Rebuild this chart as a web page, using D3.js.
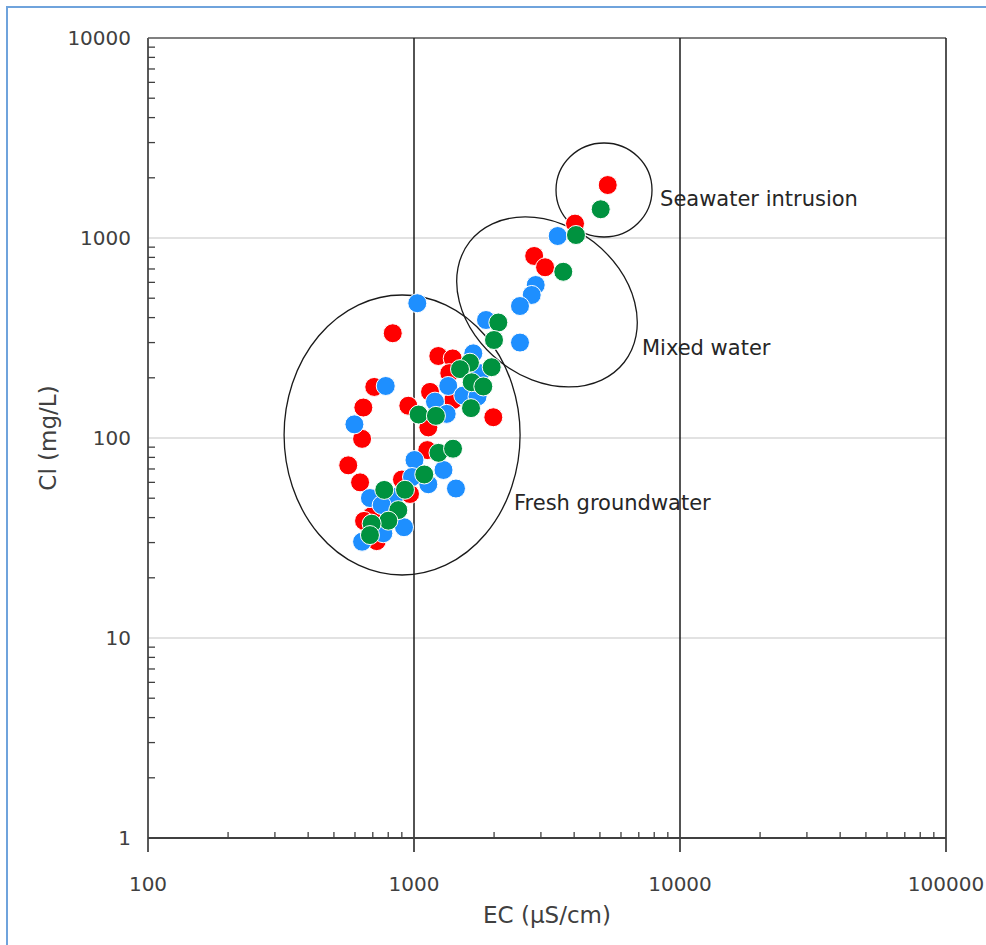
<!DOCTYPE html>
<html>
<head>
<meta charset="utf-8">
<script src="https://cdn.jsdelivr.net/npm/d3@7"></script>
<style>
  html, body { margin: 0; padding: 0; background: #fff; }
  svg { display: block; }
  text { font-family: "DejaVu Sans", sans-serif; fill: #404040; }
</style>
</head>
<body>
<svg id="chart" width="986" height="945"></svg>
<script>
// Electrical conductivity (µS/cm) and chloride (mg/L) per sample group
const redEC  = [5350, 4030, 2830, 3110, 832, 1234, 1398, 1357, 1149, 1405, 1987, 709, 645, 952, 1132, 638, 1122, 566, 627, 901, 966, 693, 724, 649];
const redCl  = [1840, 1180, 813, 714, 334, 257, 250, 211, 170, 155, 127, 180, 142, 145, 113, 99, 87, 73, 60, 62, 52.5, 40.7, 30.5, 38.5];

const blueEC = [3469, 2868, 2770, 2503, 1865, 2503, 1029, 1671, 1345, 1199, 1532, 1733, 1771, 1327, 783, 597, 1004, 1291, 1132, 1438, 983, 683, 841, 756, 917, 767, 638];
const blueCl = [1023, 582, 519, 457, 389, 300, 472, 265, 182, 152, 163, 161, 211, 132, 182, 117, 77.6, 69.2, 58.7, 55.9, 63.8, 50.1, 50.7, 46.2, 35.8, 33.4, 30.3];

const greenEC = [5034, 4064, 3641, 2075, 1999, 1623, 1489, 1959, 1648, 1822, 1638, 1041, 1209, 1236, 1402, 1093, 773, 925, 873, 801, 693, 683];
const greenCl = [1392, 1035, 678, 378, 309, 238, 221, 226, 190, 181, 141, 131, 129, 84.3, 88.4, 65.7, 55, 55.1, 43.6, 38.6, 37.3, 32.7];

// Axis ticks
const xTicks = [100, 1000, 10000, 100000];
const yTicks = [1, 10, 100, 1000, 10000];

// Water-type zones: centre in data units, label anchor in data units
const zoneNames  = ["Fresh groundwater", "Mixed water", "Seawater intrusion"];
const zoneCenEC  = [902, 3162, 5180];
const zoneCenCl  = [103.5, 479, 1738];
const zoneLabEC  = [2377, 7194, 8414];
const zoneLabCl  = [43.6, 260, 1445];

const W = 986, H = 945;
const plotL = 148, plotR = 946, plotT = 38, plotB = 838;

const svg = d3.select("#chart");

// outer frame
svg.append("path")
  .attr("d", `M7,${H} L7,7 L${W},7`)
  .attr("fill", "none").attr("stroke", "#6fa3dc").attr("stroke-width", 2);

const x = d3.scaleLog().domain([100, 100000]).range([plotL, plotR]);
const y = d3.scaleLog().domain([1, 10000]).range([plotB, plotT]);

// minor tick values (2..9 per decade)
const minorX = [], minorY = [];
for (let d = 100; d < 100000; d *= 10) for (let k = 2; k <= 9; k++) minorX.push(d * k);
for (let d = 1; d < 10000; d *= 10) for (let k = 2; k <= 9; k++) minorY.push(d * k);

// horizontal gridlines
svg.append("g").selectAll("line").data(yTicks.filter(v => v > 1 && v < 10000)).join("line")
  .attr("x1", plotL).attr("x2", plotR)
  .attr("y1", d => y(d)).attr("y2", d => y(d))
  .attr("stroke", "#d9d9d9").attr("stroke-width", 1.3);

// top border
svg.append("line").attr("x1", plotL).attr("x2", plotR).attr("y1", y(10000)).attr("y2", y(10000))
  .attr("stroke", "#808080").attr("stroke-width", 2);

// vertical major gridlines (dark), extending below the axis as major ticks
svg.append("g").selectAll("line").data(xTicks.filter(v => v > 100)).join("line")
  .attr("x1", d => x(d)).attr("x2", d => x(d))
  .attr("y1", plotT).attr("y2", plotB + 14)
  .attr("stroke", "#1a1a1a").attr("stroke-width", 1.5);

// y axis line
svg.append("line").attr("x1", plotL).attr("x2", plotL).attr("y1", plotT).attr("y2", plotB + 14)
  .attr("stroke", "#595959").attr("stroke-width", 2);

// x axis line
svg.append("line").attr("x1", plotL).attr("x2", plotR).attr("y1", plotB).attr("y2", plotB)
  .attr("stroke", "#404040").attr("stroke-width", 2);

// minor ticks
svg.append("g").selectAll("line").data(minorX).join("line")
  .attr("x1", d => x(d)).attr("x2", d => x(d))
  .attr("y1", plotB).attr("y2", plotB - 6)
  .attr("stroke", "#404040").attr("stroke-width", 1.3);
svg.append("g").selectAll("line").data(minorY).join("line")
  .attr("x1", plotL).attr("x2", plotL + 7)
  .attr("y1", d => y(d)).attr("y2", d => y(d))
  .attr("stroke", "#404040").attr("stroke-width", 1.3);

// tick labels
svg.append("g").selectAll("text").data(xTicks).join("text")
  .attr("x", d => x(d)).attr("y", plotB + 53)
  .attr("text-anchor", "middle").attr("font-size", 20)
  .text(d => d);
svg.append("g").selectAll("text").data(yTicks).join("text")
  .attr("x", plotL - 17).attr("y", d => y(d) + 7)
  .attr("text-anchor", "end").attr("font-size", 20)
  .text(d => d);

// axis titles
svg.append("text").attr("x", (plotL + plotR) / 2).attr("y", 923)
  .attr("text-anchor", "middle").attr("font-size", 23)
  .text("EC (µS/cm)");
svg.append("text")
  .attr("transform", `translate(56,${(plotT + plotB) / 2}) rotate(-90)`)
  .attr("text-anchor", "middle").attr("font-size", 23)
  .text("Cl (mg/L)");

// zone ellipses (pixel semi-axes and tilt)
const zoneRx = [118, 98, 48], zoneRy = [140, 76, 47], zoneRot = [0, 38, 0];
const zg = svg.append("g");
zoneNames.forEach((name, i) => {
  zg.append("ellipse")
    .attr("cx", 0).attr("cy", 0)
    .attr("rx", zoneRx[i]).attr("ry", zoneRy[i])
    .attr("transform", `translate(${x(zoneCenEC[i])},${y(zoneCenCl[i])}) rotate(${zoneRot[i]})`)
    .attr("fill", "none").attr("stroke", "#1a1a1a").attr("stroke-width", 1.3);
});

// samples: red, then blue, then green on top
const series = [
  { ec: redEC, cl: redCl, color: "#ff0000" },
  { ec: blueEC, cl: blueCl, color: "#1e8fff" },
  { ec: greenEC, cl: greenCl, color: "#00923f" }
];
series.forEach(s => {
  svg.append("g").selectAll("circle").data(s.ec.map((v, i) => [v, s.cl[i]])).join("circle")
    .attr("cx", d => x(d[0])).attr("cy", d => y(d[1]))
    .attr("r", 9.5)
    .attr("fill", s.color).attr("stroke", "#ffffff").attr("stroke-width", 1);
});

// zone labels
svg.append("g").selectAll("text").data(zoneNames).join("text")
  .attr("x", (d, i) => x(zoneLabEC[i])).attr("y", (d, i) => y(zoneLabCl[i]))
  .attr("font-size", 21).style("fill", "#262626")
  .text(d => d);
</script>
</body>
</html>
